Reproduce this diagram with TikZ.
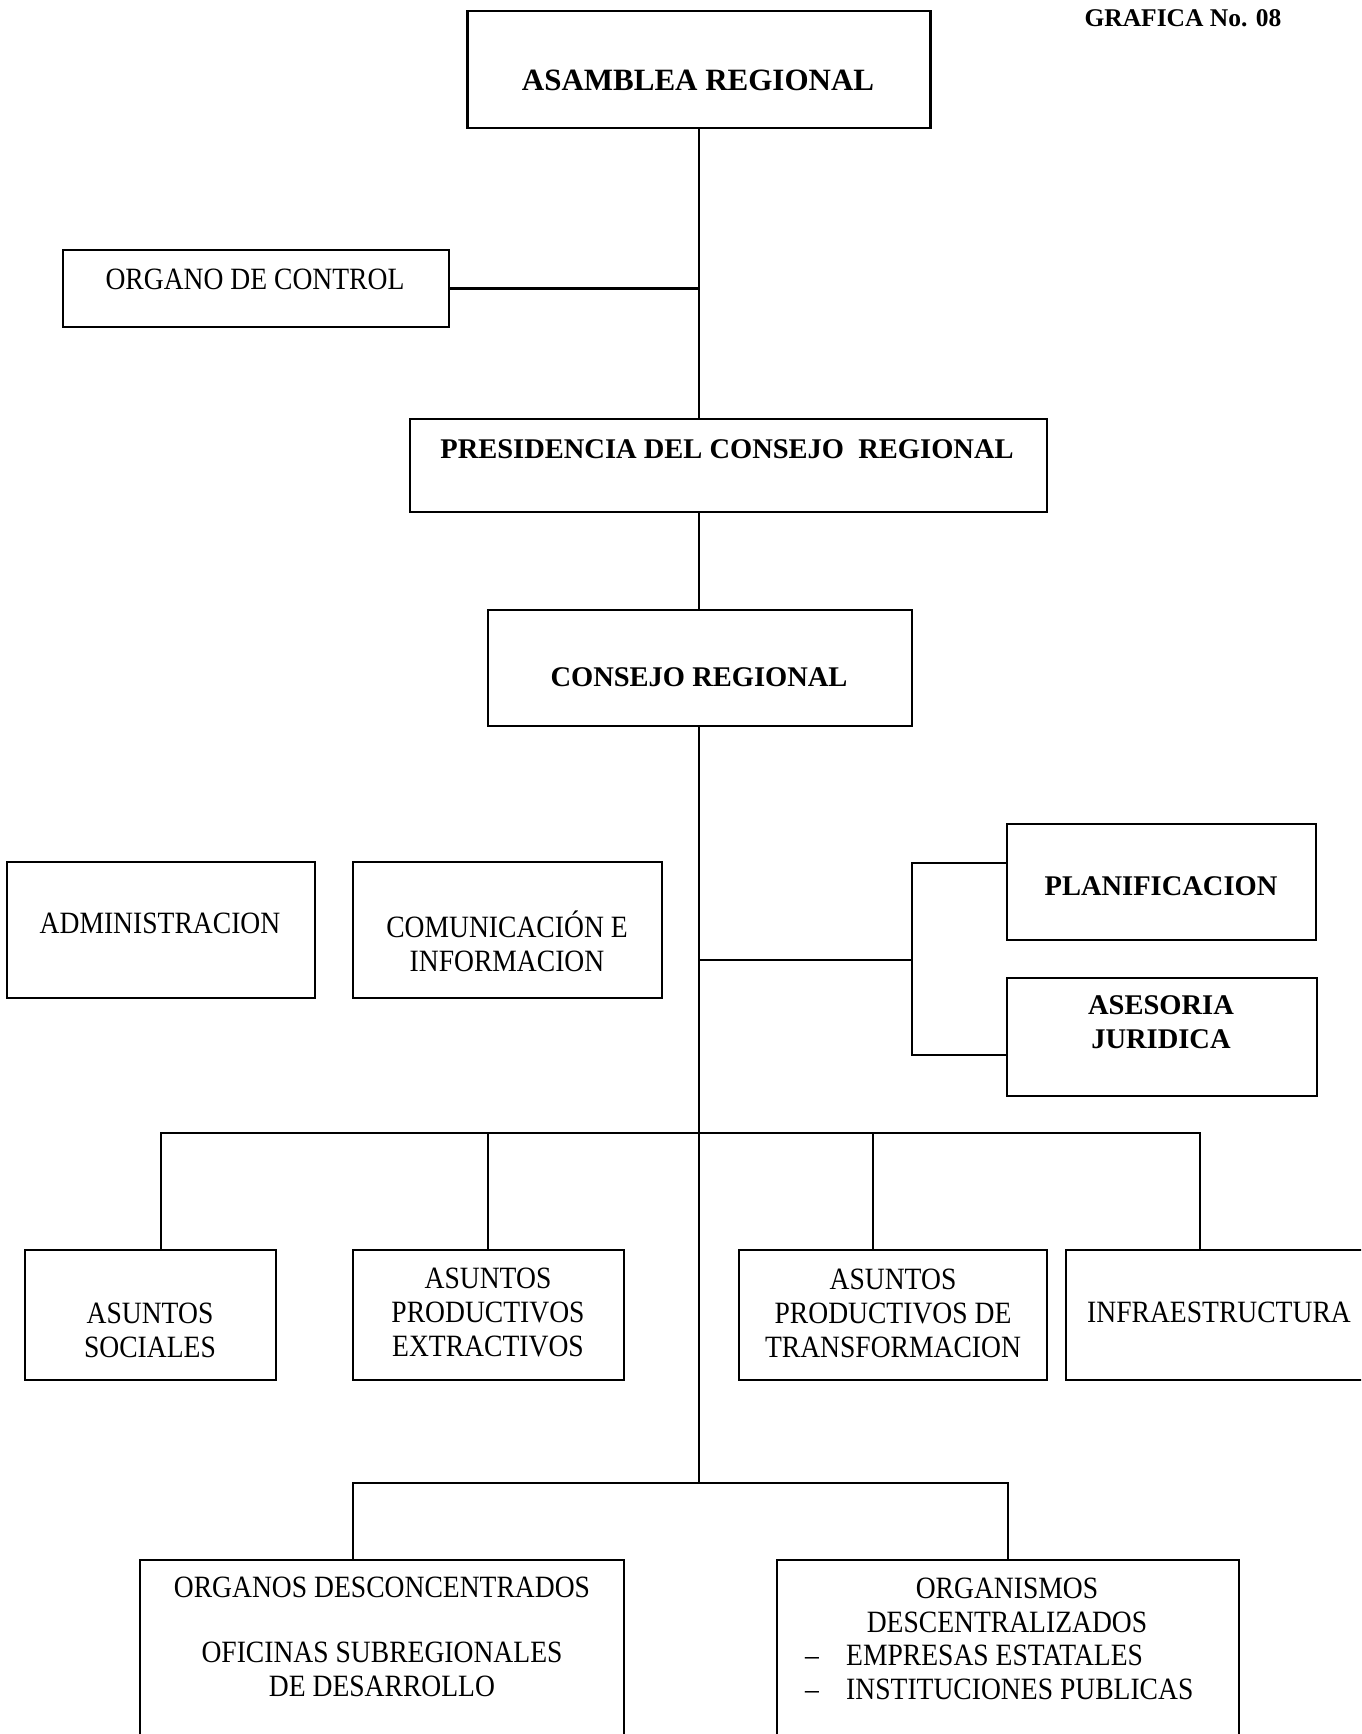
\documentclass[tikz,border=0pt]{standalone}
\usepackage{fontspec}
\setmainfont{Liberation Serif}
\newfontfamily\estrecha[FakeStretch=0.89,Ligatures=TeX]{Liberation Serif}

\tikzset{
  caja/.style={draw,line width=2.3pt,inner sep=0pt},
  linea/.style={line width=2.3pt},
  rotulo/.style={font=\estrecha\fontsize{31}{34}\selectfont,align=center,inner sep=0pt},
  rotulonegro/.style={font=\fontsize{28.5}{34}\selectfont\bfseries,align=center,inner sep=0pt},
}

\begin{document}
\begin{tikzpicture}[x=1pt,y=-1pt,line join=miter,line cap=rect]

  \useasboundingbox (0,0) rectangle (1361,1734);
  \clip (0,0) rectangle (1361,1734);

  % ---- titulo de la grafica ------------------------------------------------
  \node[inner sep=0pt,font=\fontsize{25.5}{30}\selectfont\bfseries] (grafica) at (1183,18) {GRAFICA No. 08};

  % ---- cajas de la direccion ----------------------------------------------
  \node[caja,minimum width=463pt,minimum height=117pt] (asamblea)    at (699,69.5)   {};
  \node[caja,minimum width=386pt,minimum height=77pt]  (organo)      at (256,288.5)  {};
  \node[caja,minimum width=637pt,minimum height=93pt]  (presidencia) at (728.5,465.5) {};
  \node[caja,minimum width=424pt,minimum height=116pt] (consejo)     at (700,668)    {};

  \node[inner sep=0pt,font=\fontsize{31}{36}\selectfont\bfseries] (t-asamblea) at (698,80) {ASAMBLEA REGIONAL};
  \node[rotulo]      (t-organo)      at (255,279) {ORGANO DE CONTROL};
  \node[rotulonegro] (t-presidencia) at (727,449) {PRESIDENCIA DEL CONSEJO\ \ REGIONAL};
  \node[rotulonegro] (t-consejo)     at (699,677) {CONSEJO REGIONAL};

  % ---- apoyo y asesoria ----------------------------------------------------
  \node[caja,minimum width=308pt,minimum height=136pt] (admin)    at (161,930)    {};
  \node[caja,minimum width=309pt,minimum height=136pt] (comunic)  at (507.5,930)  {};
  \node[caja,minimum width=309pt,minimum height=116pt] (planif)   at (1161.5,882) {};
  \node[caja,minimum width=310pt,minimum height=118pt] (asesoria) at (1162,1037)  {};

  \node[rotulo]      (t-admin)    at (160,923)   {ADMINISTRACION};
  \node[rotulo]      (t-comunic)  at (507,941)   {COMUNICACIÓN E\\INFORMACION};
  \node[rotulonegro] (t-planif)   at (1161,886)  {PLANIFICACION};
  \node[rotulonegro] (t-asesoria) at (1161,1022) {ASESORIA\\JURIDICA};

  % ---- organos de linea ----------------------------------------------------
  \node[caja,minimum width=251pt,minimum height=130pt] (sociales)       at (150.5,1315) {};
  \node[caja,minimum width=271pt,minimum height=130pt] (extractivos)    at (488.5,1315) {};
  \node[caja,minimum width=308pt,minimum height=130pt] (transformacion) at (893,1315)   {};
  \node[caja,minimum width=334pt,minimum height=130pt] (infra)          at (1233,1315)  {};

  \node[rotulo] (t-sociales)       at (150,1330) {ASUNTOS\\SOCIALES};
  \node[rotulo] (t-extractivos)    at (488,1312) {ASUNTOS\\PRODUCTIVOS\\EXTRACTIVOS};
  \node[rotulo] (t-transformacion) at (893,1313) {ASUNTOS\\PRODUCTIVOS DE\\TRANSFORMACION};
  \node[rotulo] (t-infra)          at (1219,1312) {INFRAESTRUCTURA};

  % ---- organos desconcentrados y descentralizados -------------------------
  \node[caja,minimum width=484pt,minimum height=240pt] (desconc) at (382,1680)  {};
  \node[caja,minimum width=462pt,minimum height=240pt] (descent) at (1008,1680) {};

  \node[rotulo] (t-desconc) at (382,1637)
    {ORGANOS DESCONCENTRADOS\\[31pt]OFICINAS SUBREGIONALES\\DE DESARROLLO};
  \node[rotulo] (t-descent) at (1007,1605) {ORGANISMOS\\DESCENTRALIZADOS};
  \node[rotulo,align=left,anchor=west] (t-items) at (805,1672)
    {\makebox[41pt][l]{–}EMPRESAS ESTATALES\\\makebox[41pt][l]{–}INSTITUCIONES PUBLICAS};

  % ---- nudos del eje central -----------------------------------------------
  \coordinate (nudo1) at (699,960);
  \coordinate (staff) at (912,960);
  \coordinate (nudo2) at (699,1133);
  \coordinate (nudo3) at (699,1483);

  % ---- eje vertical ----------------------------------------------------------
  \draw[linea] (asamblea.south) -- (asamblea.south |- presidencia.north);
  \draw[linea] (asamblea.south |- presidencia.south) -- (asamblea.south |- consejo.north);
  \draw[linea] (asamblea.south |- consejo.south) -- (nudo3);

  % ---- organo de control ---------------------------------------------------
  \draw[linea] (organo.east) -- (organo.east -| asamblea.south);

  % ---- planificacion y asesoria --------------------------------------------
  \draw[linea] (nudo1) -- (staff);
  \draw[linea] ([yshift=19pt]planif.west) -| (staff) |- ([yshift=-18pt]asesoria.west);

  % ---- ramas hacia los organos de linea ------------------------------------
  \draw[linea] (nudo2 -| 161,0) -- (nudo2 -| 1200,0);
  \foreach \caja/\x in {sociales/161, extractivos/488, transformacion/873, infra/1200}{
    \draw[linea] (nudo2 -| \x,0) -- (\caja.north -| \x,0);
  }

  % ---- ramas inferiores ------------------------------------------------------
  \draw[linea] (nudo3 -| 353,0) -- (nudo3 -| 1008,0);
  \draw[linea] (nudo3 -| 353,0) -- (desconc.north -| 353,0);
  \draw[linea] (nudo3 -| 1008,0) -- (descent.north);

\end{tikzpicture}
\end{document}
